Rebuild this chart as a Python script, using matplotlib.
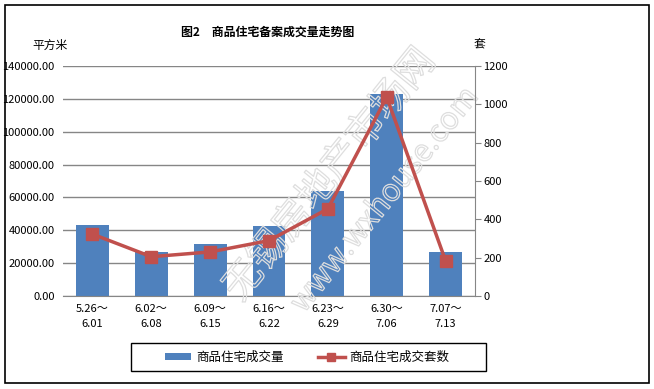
import matplotlib.pyplot as plt
import matplotlib.patheffects as pe
import numpy as np
from matplotlib.patches import Rectangle
from matplotlib.ticker import FormatStrFormatter

plt.rcParams['font.family'] = ['Noto Sans CJK SC', 'DejaVu Sans']

# weekly periods
periods = ["5.26～\n6.01", "6.02～\n6.08", "6.09～\n6.15", "6.16～\n6.22",
           "6.23～\n6.29", "6.30～\n7.06", "7.07～\n7.13"]
area = [43200, 26800, 31700, 42600, 63900, 123000, 26800]   # 平方米
units = [323, 205, 230, 289, 455, 1038, 184]                  # 套

bar_color = "#4f81bd"
line_color = "#c0504d"
grid_color = "#868686"

fig = plt.figure(figsize=(6.54, 3.89), dpi=100)
fig.patches.append(Rectangle((5 / 654, 6 / 389), 644 / 654, 378 / 389,
                             transform=fig.transFigure, fill=False,
                             edgecolor="black", linewidth=1.2))
# legend box
fig.patches.append(Rectangle((131 / 654, 1 - 371 / 389), 355 / 654, 28 / 389,
                             transform=fig.transFigure, fill=False,
                             edgecolor="black", linewidth=1))

ax = fig.add_axes([63 / 654, 1 - 296 / 389, 412 / 654, 230 / 389])
x = np.arange(len(periods))
ax.bar(x, area, width=0.56, color=bar_color, zorder=2, label="商品住宅成交量")
ax.set_xlim(-0.5, len(periods) - 0.5)
ax.set_ylim(0, 140000)
ax.set_yticks(np.arange(0, 140001, 20000))
ax.yaxis.set_major_formatter(FormatStrFormatter("%.2f"))
ax.grid(axis="y", color=grid_color, linewidth=1, zorder=0)
ax.set_xticks(x)
ax.set_xticklabels(periods, fontsize=8, linespacing=1.6)
ax.tick_params(axis="y", length=0, labelsize=8, pad=6)
ax.tick_params(axis="x", length=0, pad=6)
for s in ["top", "right", "left"]:
    ax.spines[s].set_visible(False)
ax.spines["bottom"].set_color(grid_color)

ax2 = ax.twinx()
ax2.plot(x, units, color=line_color, linewidth=2.5, marker="s", markersize=8,
         zorder=3, label="商品住宅成交套数")
ax2.set_ylim(0, 1200)
ax2.set_yticks(np.arange(0, 1201, 200))
ax2.tick_params(axis="y", length=4, labelsize=8, color=grid_color, pad=2)
for s in ["top", "left", "bottom"]:
    ax2.spines[s].set_visible(False)
ax2.spines["right"].set_color(grid_color)

fig.text(268 / 654, 1 - 32 / 389, "图2　商品住宅备案成交量走势图", ha="center",
         va="center", fontsize=8.6, fontweight="bold")
fig.text(50 / 654, 1 - 45 / 389, "平方米", ha="center", va="center", fontsize=8.5)
fig.text(479 / 654, 1 - 45 / 389, "套", ha="center", va="center", fontsize=8.5)

# watermark (outline only, under the line)
wm = [pe.withStroke(linewidth=0.9, foreground="#dedede")]
ax.text(330 / 654, 1 - 175 / 389, "无锡房地产市场网", ha="center", va="center",
        rotation=51, fontsize=28, color="none", path_effects=wm,
        transform=fig.transFigure, zorder=5, clip_on=False)
ax.text(385 / 654, 1 - 200 / 389, "www.wxhouse.com", ha="center", va="center",
        rotation=51, fontsize=22, color="none", path_effects=wm,
        transform=fig.transFigure, zorder=5, clip_on=False)

h1, l1 = ax.get_legend_handles_labels()
h2, l2 = ax2.get_legend_handles_labels()
leg = fig.legend(h1 + h2, l1 + l2, loc="center", ncol=2,
                 bbox_to_anchor=(307 / 654, 1 - 357 / 389), fontsize=9,
                 frameon=False, handlelength=2.1, handleheight=0.5,
                 handletextpad=0.4, columnspacing=2.8, markerscale=0.8)

fig.savefig("out.png", dpi=100)
